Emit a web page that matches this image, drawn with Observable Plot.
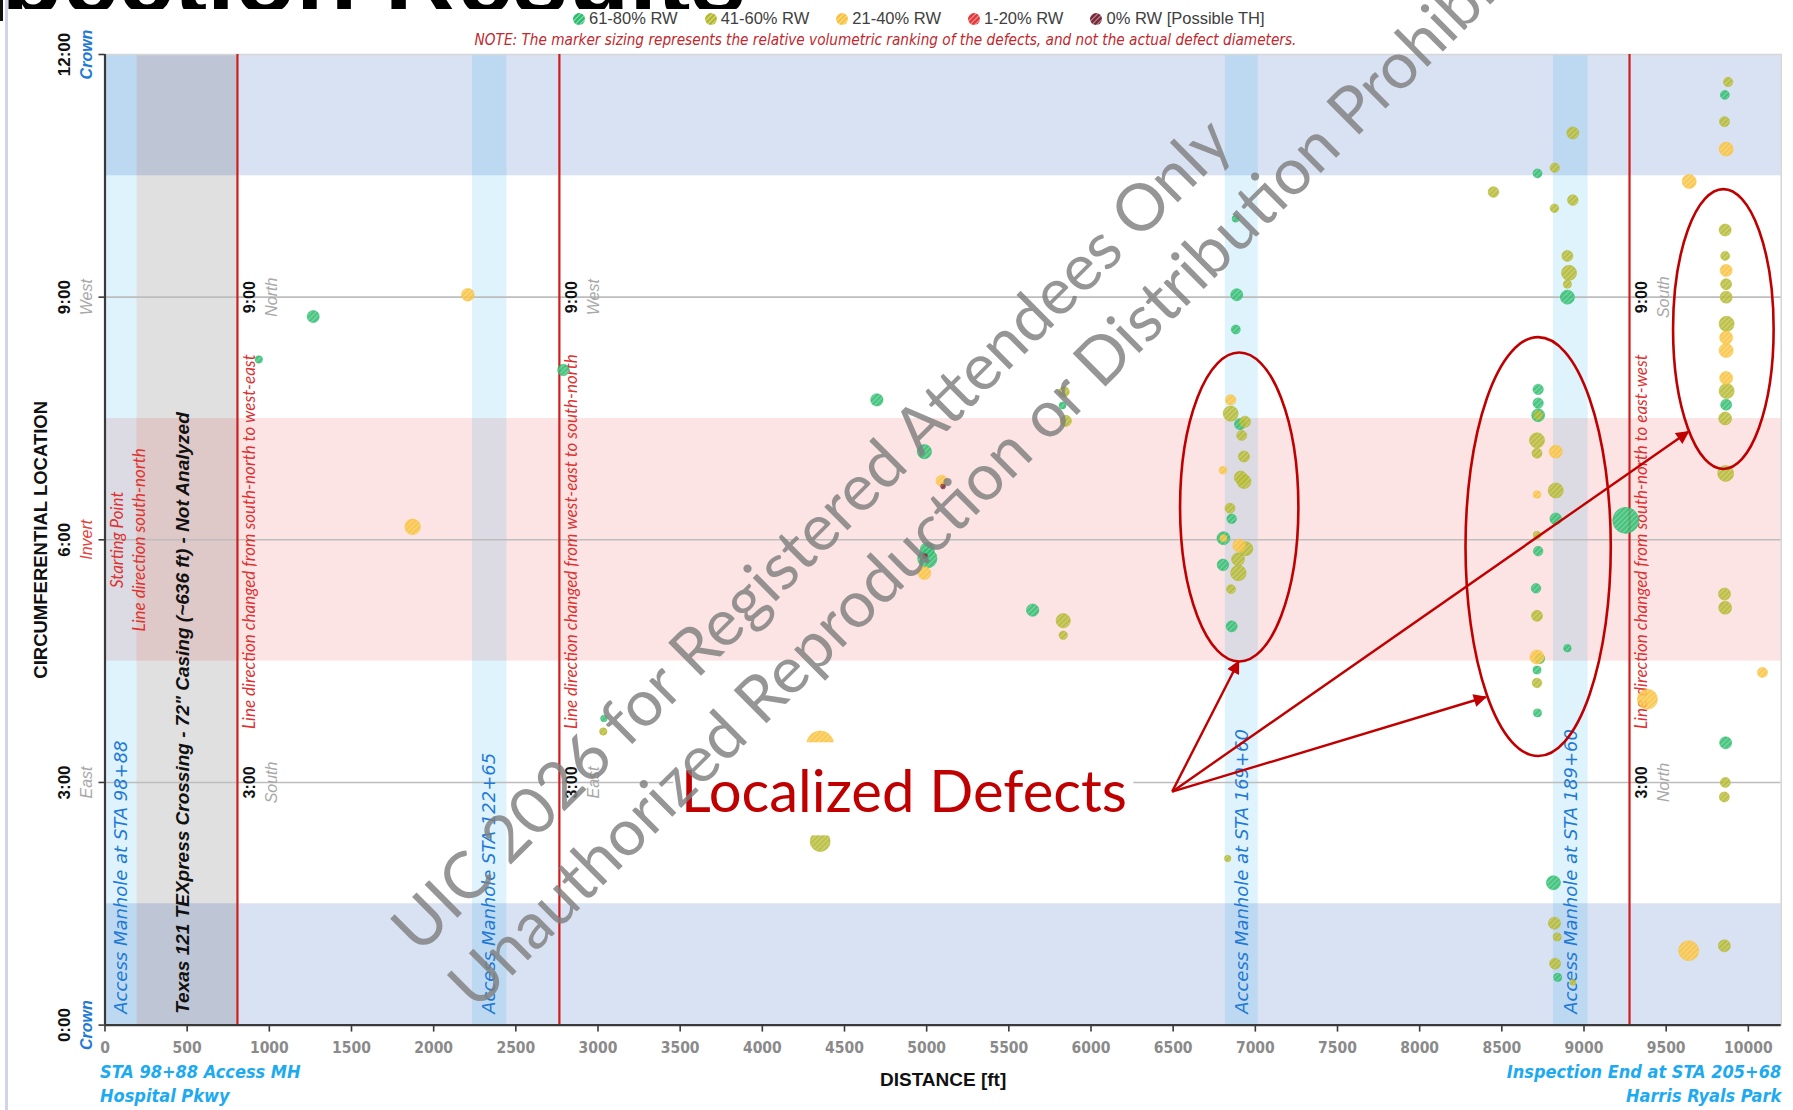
<!DOCTYPE html>
<html>
<head>
<meta charset="utf-8">
<script src="https://cdn.jsdelivr.net/npm/d3@7"></script>
<script src="https://cdn.jsdelivr.net/npm/@observablehq/plot@0.6"></script>
<style>
  body { margin: 0; background: #fff; }
  #wrap { position: relative; width: 1793px; height: 1110px; overflow: hidden; background: #fff; }
  #chart { position: absolute; left: 0; top: 0; }
  #title { position: absolute; left: 0; top: 0; overflow: hidden; }
  #edge1 { position: absolute; left: 0; top: 0; width: 3px; height: 21px; background: #111; }
  #edge2 { position: absolute; left: 5px; top: 0; width: 3px; height: 1110px; background: #d2d2ea; }
  #legend { position: absolute; left: 573px; top: 9px; display: flex; gap: 27px;
            font: 16.5px 'Liberation Sans', Arial, sans-serif; color: #404040; z-index: 2; }
  #legend .it { display: flex; align-items: center; gap: 4px; white-space: nowrap; }
  #legend .dot { width: 12px; height: 12px; border-radius: 50%;
                 background-image: repeating-linear-gradient(-45deg, rgba(255,255,255,0.35) 0 1.2px, transparent 1.2px 3.5px); }
  #note { position: absolute; left: 0; top: 31px; width: 1793px; text-align: center; padding-right: 22px; box-sizing: border-box;
          font: italic 15.2px 'DejaVu Sans Condensed', 'DejaVu Sans', sans-serif; color: #c0282d; z-index: 2; }
</style>
</head>
<body>
<div id="wrap">
  <div id="chart"></div>
  <svg id="title" width="900" height="9" viewBox="0 0 900 9">
    <text x="746" y="13" text-anchor="end" font-family="'Liberation Sans', Arial, sans-serif" font-weight="bold" font-size="100" fill="#000">Inspection Results</text>
  </svg>
  <div id="edge1"></div><div id="edge2"></div>
  <div id="legend"></div>
  <div id="note">NOTE: The marker sizing represents the relative volumetric ranking of the defects, and not the actual defect diameters.</div>
</div>
<script>
// ---------------- DATA ----------------
const rwClasses = ["61-80% RW", "41-60% RW", "21-40% RW", "1-20% RW", "0% RW [Possible TH]"];

// defects: distance along pipe [ft], circumferential clock position [hours], RW class index, relative volume rank
const defectFt = [936, 1267, 1872, 2208, 2789, 3036, 3032, 4352, 4352, 4697,
  4986, 5091, 5100, 5004, 5004, 4990, 4986, 5645, 5831, 5831,
  5836, 5827, 5847, 6832, 6880, 6887, 6881, 6850, 6850, 6907,
  6937, 6917, 6931, 6803, 6911, 6931, 6846, 6856, 6806, 6806,
  6942, 6901, 6895, 6803, 6897, 6852, 6856, 8449, 8717, 8822,
  8932, 8932, 8820, 8899, 8909, 8899, 8899, 8721, 8721, 8721,
  8721, 8714, 8714, 8828, 8714, 8828, 8828, 8714, 8721, 8708,
  8714, 8899, 8730, 8714, 8714, 8714, 8717, 8814, 8820, 8837,
  8824, 8840, 8932, 9254, 9386, 9637, 9854, 9862, 9860, 9854,
  10086, 9640, 9865, 9855, 9857, 9877, 9859, 9859, 9865, 9865,
  9865, 9868, 9865, 9865, 9865, 9868, 9865, 9859, 9862, 9855, 9859];
const defectHour = [8.23, 8.76, 6.16, 9.03, 8.10, 3.79, 3.63, 3.47, 2.27, 7.73,
  7.09, 6.73, 6.66, 5.88, 5.77, 5.80, 5.59, 5.13, 5.00, 4.82,
  7.83, 7.66, 7.47, 2.06, 9.97, 9.03, 8.60, 7.73, 7.56, 7.43,
  7.46, 7.29, 7.03, 6.86, 6.77, 6.72, 6.39, 6.26, 6.02, 6.02,
  5.89, 5.93, 5.76, 5.69, 5.59, 5.39, 4.93, 10.30, 10.53, 10.60,
  11.03, 10.20, 10.10, 9.51, 9.30, 9.16, 9.00, 7.86, 7.69, 7.54,
  7.54, 7.23, 7.07, 7.09, 6.56, 6.61, 6.26, 6.06, 5.86, 5.40,
  5.06, 4.66, 4.53, 4.55, 4.39, 4.23, 3.86, 1.76, 1.26, 1.09,
  0.76, 0.59, 0.53, 6.24, 4.03, 0.92, 0.98, 3.49, 3.00, 2.82,
  4.36, 10.43, 10.83, 11.17, 11.50, 11.66, 9.83, 9.51, 9.33, 9.16,
  9.00, 8.67, 8.50, 8.34, 8.00, 7.84, 7.67, 7.50, 6.82, 5.33, 5.16];
const defectClass = [0, 0, 2, 2, 0, 0, 1, 2, 1, 0,
  0, 2, 4, 0, 0, 4, 2, 0, 1, 1,
  1, 0, 1, 1, 0, 0, 0, 2, 1, 0,
  1, 1, 1, 2, 1, 1, 1, 0, 0, 2,
  1, 2, 1, 0, 1, 1, 0, 1, 0, 1,
  1, 1, 1, 1, 1, 1, 0, 0, 0, 0,
  1, 1, 1, 2, 2, 1, 0, 1, 0, 0,
  1, 0, 0, 2, 0, 1, 0, 0, 1, 1,
  1, 0, 1, 0, 2, 2, 1, 0, 1, 1,
  2, 2, 2, 1, 0, 1, 1, 1, 2, 1,
  1, 1, 2, 2, 2, 1, 0, 1, 1, 1, 1];
const defectVolume = [7.5, 20, 33, 22, 18, 6, 7.5, 100, 55, 21,
  28, 17, 3.4, 27, 51, 3.4, 23, 21, 28, 9.7,
  15, 6.7, 17, 5.6, 6.7, 20, 11, 15, 31, 17,
  17, 13.7, 17, 8, 23, 27, 13.7, 12.6, 23, 6.7,
  27, 22, 23, 18.5, 33, 11, 16.6, 15.4, 11, 12,
  20, 15.4, 10, 16.6, 31, 8.8, 27, 14.8, 14.8, 23,
  11, 31, 13.7, 23, 7.9, 31, 18.5, 7.9, 12.6, 12.6,
  16.6, 7.9, 13.7, 27, 8.8, 12.6, 8.8, 27, 20, 8.8,
  16.6, 8.8, 4.9, 93, 55, 55, 19.8, 19.8, 13.7, 13.7,
  13.7, 27, 27, 13.7, 11, 12, 19.8, 11, 19.8, 16.6,
  19.8, 31, 23, 27, 23, 31, 16.6, 23, 35, 19.8, 23];

// clock zones [hours]
const crownZones = [{h1: 0, h2: 1.5}, {h1: 10.5, h2: 12}];
const invertZones = [{h1: 4.5, h2: 7.5}];
// manholes and casing along the line [ft]
const manholes = [
  {x1: 0, x2: 195, label: "Access Manhole at STA 98+88"},
  {x1: 2236, x2: 2446, label: "Access Manhole STA 122+65"},
  {x1: 6817, x2: 7018, label: "Access Manhole at STA 169+60"},
  {x1: 8814, x2: 9025, label: "Access Manhole at STA 189+60"}
];
const casing = [{x1: 195, x2: 806, label: "Texas 121 TEXpress Crossing - 72\" Casing (~636 ft) - Not Analyzed"}];
const directionChanges = [
  {ft: 806, text: "Line direction changed from south-north to west-east", at9: "North", at3: "South"},
  {ft: 2765, text: "Line direction changed from west-east to south-north", at9: "West", at3: "East"},
  {ft: 9277, text: "Line direction changed from south-north to east-west", at9: "South", at3: "North"}
];

// axis ticks
const xTickValues = [0, 500, 1000, 1500, 2000, 2500, 3000, 3500, 4000, 4500, 5000, 5500, 6000, 6500, 7000, 7500, 8000, 8500, 9000, 9500, 10000];
const yTickHours = [0, 3, 6, 9, 12];
const yTickLabels = ["0:00", "3:00", "6:00", "9:00", "12:00"];
const yDirLabels = ["Crown", "East", "Invert", "West", "Crown"];

// annotations (data coordinates)
const focusEllipses = [
  {ft: 6905, h: 6.40, rxFt: 360, ryH: 1.91},
  {ft: 8724, h: 5.91, rxFt: 442, ryH: 2.59},
  {ft: 9851, h: 8.60, rxFt: 306, ryH: 1.73}
];
const calloutOrigin = {ft: 6497, h: 2.88};
const calloutTargets = [{ft: 6901, h: 4.49}, {ft: 8405, h: 4.05}, {ft: 9638, h: 7.33}];
const calloutText = {ft: 3505, h: 2.86, text: "Localized Defects", box: {x1: 3460, x2: 6260, y1: 2.34, y2: 3.49}};
const watermark = [
  {ft: 4305, h: 6.05, text: "UIC 2026 for Registered Attendees Only"},
  {ft: 5480, h: 7.03, text: "Unauthorized Reproduction or Distribution Prohibited"}
];

// ---------------- STYLE ----------------
const rwColors = ["#2dbd6e", "#b3b82d", "#f9c23c", "#e23b3b", "#7b2a3a"];
const NARROW = "'DejaVu Sans Condensed','DejaVu Sans',sans-serif";
const SANS = "'Liberation Sans',Arial,sans-serif";
const LATO = "Lato,'Open Sans',sans-serif";
const DEJAVU = "'DejaVu Sans',sans-serif";
const RED_TXT = "#dc3232";
const BLUE_TXT = "#1f7ad6";
const CYAN_TXT = "#1eaaf0";
const ANNOT = "#c00000";

const defects = defectFt.map((ft, i) => ({ft, h: defectHour[i], cls: defectClass[i], vol: defectVolume[i]}));

// legend
const legend = d3.select("#legend");
rwClasses.forEach((c, i) => {
  const it = legend.append("span").attr("class", "it");
  it.append("span").attr("class", "dot").style("background-color", rwColors[i]);
  it.append("span").text(c);
});

// custom render: hatch patterns + arrow head
function hatchDefs() {
  const g = d3.create("svg:g");
  const defs = g.append("defs");
  rwColors.forEach((col, i) => {
    const p = defs.append("pattern").attr("id", "hatch" + i)
      .attr("patternUnits", "userSpaceOnUse").attr("width", 3.6).attr("height", 3.6)
      .attr("patternTransform", "rotate(45)");
    p.append("rect").attr("width", 3.6).attr("height", 3.6).attr("fill", col);
    p.append("rect").attr("width", 1.2).attr("height", 3.6).attr("fill", "#fff").attr("fill-opacity", 0.3);
  });
  const m = defs.append("marker").attr("id", "calloutHead").attr("viewBox", "0 0 10 10")
    .attr("refX", 9).attr("refY", 5).attr("markerWidth", 6.5).attr("markerHeight", 5.5)
    .attr("orient", "auto-start-reverse").attr("markerUnits", "strokeWidth");
  m.append("path").attr("d", "M0,0 L10,5 L0,10 z").attr("fill", ANNOT);
  return g.node();
}

function calloutMarks(index, scales) {
  const g = d3.create("svg:g");
  focusEllipses.forEach(e => {
    g.append("ellipse")
      .attr("cx", scales.x(e.ft)).attr("cy", scales.y(e.h))
      .attr("rx", scales.x(e.ft + e.rxFt) - scales.x(e.ft))
      .attr("ry", scales.y(e.h - e.ryH) - scales.y(e.h))
      .attr("fill", "none").attr("stroke", ANNOT).attr("stroke-width", 2.6);
  });
  calloutTargets.forEach(t => {
    g.append("line")
      .attr("x1", scales.x(calloutOrigin.ft)).attr("y1", scales.y(calloutOrigin.h))
      .attr("x2", scales.x(t.ft)).attr("y2", scales.y(t.h))
      .attr("stroke", ANNOT).attr("stroke-width", 2.4)
      .attr("marker-end", "url(#calloutHead)");
  });
  return g.node();
}

const rot = {rotate: -90};

const marks = [
  hatchDefs,
  // horizontal clock zones
  Plot.rectY(crownZones, {x1: 0, x2: 10200, y1: "h1", y2: "h2", fill: "#d9e2f3"}),
  Plot.rectY(invertZones, {x1: 0, x2: 10200, y1: "h1", y2: "h2", fill: "#fde4e4"}),
  // vertical manhole / casing zones
  Plot.rectX(manholes, {x1: "x1", x2: "x2", y1: 0, y2: 12, fill: "rgb(0,160,230)", fillOpacity: 0.13}),
  Plot.rectX(casing, {x1: "x1", x2: "x2", y1: 0, y2: 12, fill: "#000", fillOpacity: 0.12}),
  // grid
  Plot.ruleY([3, 6, 9], {stroke: "#bdbdbd", strokeWidth: 1.6}),
  Plot.frame({stroke: "#d6d6d6", strokeWidth: 1.5}),
  // direction change lines
  Plot.ruleX(directionChanges, {x: "ft", stroke: "#cf1d1d", strokeWidth: 2.2}),
  // axes lines and ticks
  Plot.ruleY([0], {stroke: "#3a3a3a", strokeWidth: 2.4}),
  Plot.ruleX([0], {stroke: "#3a3a3a", strokeWidth: 2.2}),
  Plot.axisX({ticks: xTickValues, tickSize: 7, tickFormat: () => "", stroke: "#3a3a3a", strokeWidth: 1.6, label: null}),
  Plot.axisY({ticks: yTickHours, tickSize: 6, tickFormat: () => "", stroke: "#3a3a3a", strokeWidth: 1.6, label: null}),
  Plot.text(xTickValues, {x: d => d, text: d => String(d), frameAnchor: "bottom", textAnchor: "middle", dy: 28, fontFamily: NARROW, fontWeight: "bold", fontSize: 15.5, fill: "#8a8a8a"}),
  // y tick labels + direction labels
  Plot.text(yTickHours, {y: d => d, text: (d, i) => yTickLabels[i], frameAnchor: "left", textAnchor: "middle", dx: -40, ...rot, fontFamily: SANS, fontWeight: "bold", fontSize: 17, fill: "#111"}),
  Plot.text(yTickHours.filter((d, i) => yDirLabels[i] === "Crown"), {y: d => d, text: () => "Crown", frameAnchor: "left", textAnchor: "middle", dx: -18, ...rot, fontFamily: SANS, fontWeight: "bold", fontStyle: "italic", fontSize: 16, fill: BLUE_TXT}),
  Plot.text(yTickHours.filter((d, i) => yDirLabels[i] === "West" || yDirLabels[i] === "East"), {y: d => d, text: d => yDirLabels[yTickHours.indexOf(d)], frameAnchor: "left", textAnchor: "middle", dx: -18, ...rot, fontFamily: SANS, fontStyle: "italic", fontSize: 16, fill: "#a8a8a8"}),
  Plot.text(yTickHours.filter((d, i) => yDirLabels[i] === "Invert"), {y: d => d, text: () => "Invert", frameAnchor: "left", textAnchor: "middle", dx: -18, ...rot, fontFamily: SANS, fontStyle: "italic", fontSize: 16, fill: "#e8413a"}),
  // axis titles
  Plot.text(["CIRCUMFERENTIAL LOCATION"], {text: d => d, frameAnchor: "left", textAnchor: "middle", dx: -64, ...rot, fontFamily: SANS, fontWeight: "bold", fontSize: 18.5, fill: "#111"}),
  Plot.text(["DISTANCE [ft]"], {text: d => d, frameAnchor: "bottom", textAnchor: "middle", dy: 61, fontFamily: SANS, fontWeight: "bold", fontSize: 19, fill: "#111"}),
  Plot.text(["STA 98+88 Access MH"], {text: d => d, frameAnchor: "bottom-left", dx: -5, dy: 53, textAnchor: "start", fontFamily: NARROW, fontWeight: "bold", fontStyle: "italic", fontSize: 18, fill: CYAN_TXT}),
  Plot.text(["Hospital Pkwy"], {text: d => d, frameAnchor: "bottom-left", dx: -5, dy: 77, textAnchor: "start", fontFamily: NARROW, fontWeight: "bold", fontStyle: "italic", fontSize: 18, fill: CYAN_TXT}),
  Plot.text(["Inspection End at STA 205+68"], {text: d => d, frameAnchor: "bottom-right", dy: 53, textAnchor: "end", fontFamily: NARROW, fontWeight: "bold", fontStyle: "italic", fontSize: 18, fill: CYAN_TXT}),
  Plot.text(["Harris Ryals Park"], {text: d => d, frameAnchor: "bottom-right", dy: 77, textAnchor: "end", fontFamily: NARROW, fontWeight: "bold", fontStyle: "italic", fontSize: 18, fill: CYAN_TXT}),
  // zone labels
  Plot.text(manholes, {x: d => (d.x1 + d.x2) / 2, y: 0.14, text: "label", textAnchor: "start", ...rot, fontFamily: DEJAVU, fontStyle: "italic", fontSize: 18, fill: BLUE_TXT}),
  Plot.text(casing, {x: d => (d.x1 + d.x2) / 2, y: 0.14, dx: -4, text: "label", textAnchor: "start", ...rot, fontFamily: SANS, fontWeight: "bold", fontStyle: "italic", fontSize: 19, fill: "#111"}),
  Plot.text(["Starting Point"], {x: 74, y: 6, text: d => d, textAnchor: "middle", ...rot, fontFamily: LATO, fontStyle: "italic", fontSize: 17, fill: RED_TXT}),
  Plot.text(["Line direction south-north"], {x: 213, y: 6, text: d => d, textAnchor: "middle", ...rot, fontFamily: LATO, fontStyle: "italic", fontSize: 17, fill: RED_TXT}),
  // direction change labels
  Plot.text(directionChanges, {x: "ft", y: 3.66, dx: 12, text: "text", textAnchor: "start", ...rot, fontFamily: LATO, fontStyle: "italic", fontSize: 17, fill: RED_TXT}),
  Plot.text(directionChanges, {x: "ft", y: 9, dx: 12, text: () => "9:00", textAnchor: "middle", ...rot, fontFamily: SANS, fontWeight: "bold", fontSize: 16, fill: "#111"}),
  Plot.text(directionChanges, {x: "ft", y: 3, dx: 12, text: () => "3:00", textAnchor: "middle", ...rot, fontFamily: SANS, fontWeight: "bold", fontSize: 16, fill: "#111"}),
  Plot.text(directionChanges, {x: "ft", y: 9, dx: 34, text: "at9", textAnchor: "middle", ...rot, fontFamily: SANS, fontStyle: "italic", fontSize: 16, fill: "#a8a8a8"}),
  Plot.text(directionChanges, {x: "ft", y: 3, dx: 34, text: "at3", textAnchor: "middle", ...rot, fontFamily: SANS, fontStyle: "italic", fontSize: 16, fill: "#a8a8a8"}),
  // defects, one layer per RW class
  ...rwClasses.map((c, i) => Plot.dot(defects.filter(d => d.cls === i), {
    x: "ft", y: "h", r: "vol", fill: `url(#hatch${i})`, fillOpacity: 0.88,
    stroke: rwColors[i], strokeWidth: 0.8, strokeOpacity: 0.7
  })),
  // callout
  Plot.rect([calloutText.box], {x1: "x1", x2: "x2", y1: "y1", y2: "y2", fill: "#fff"}),
  Plot.text([calloutText], {x: "ft", y: "h", text: "text", textAnchor: "start", fontFamily: LATO, fontSize: 58, fill: ANNOT}),
  calloutMarks,
  // watermark
  Plot.text(watermark, {x: "ft", y: "h", text: "text", textAnchor: "middle", rotate: -44.8, fontFamily: LATO, fontSize: 65, fill: "#7f7f7f", fillOpacity: 0.82})
];

const chart = Plot.plot({
  width: 1793,
  height: 1110,
  marginLeft: 104.5,
  marginRight: 12.3,
  marginTop: 54,
  marginBottom: 85.4,
  x: {domain: [0, 10200], axis: null},
  y: {domain: [0, 12], axis: null},
  r: {type: "sqrt", domain: [0, 100], range: [0, 13.5]},
  style: {background: "transparent", overflow: "visible"},
  marks
});
document.getElementById("chart").appendChild(chart);
</script>
</body>
</html>
